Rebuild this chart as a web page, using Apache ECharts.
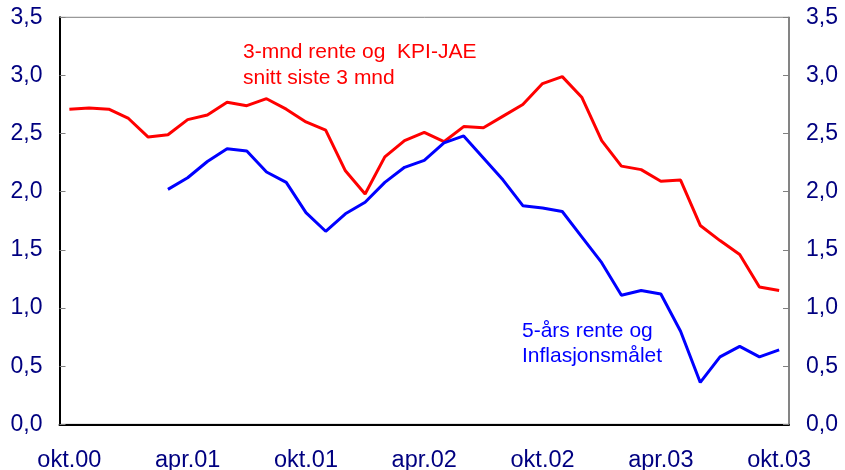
<!DOCTYPE html>
<html>
<head>
    <meta charset="utf-8">
    <title>Realrente</title>
    <script src="https://cdn.jsdelivr.net/npm/echarts@6/dist/echarts.min.js"></script>
    <style>
        html, body { margin: 0; padding: 0; background: #fff; }
    </style>
</head>
<body>
<div id="main" style="width: 845px;height:470px;"></div>
<script type="text/javascript">
    // months okt.00 - okt.03
    var months = ['okt.00','nov.00','des.00','jan.01','feb.01','mar.01','apr.01','mai.01','jun.01','jul.01','aug.01','sep.01',
        'okt.01','nov.01','des.01','jan.02','feb.02','mar.02','apr.02','mai.02','jun.02','jul.02','aug.02','sep.02',
        'okt.02','nov.02','des.02','jan.03','feb.03','mar.03','apr.03','mai.03','jun.03','jul.03','aug.03','sep.03','okt.03'];
    // 3-mnd rente og KPI-JAE, snitt siste 3 mnd
    var kortRente = [2.71,2.72,2.71,2.63,2.47,2.49,2.62,2.66,2.77,2.74,2.80,2.71,
        2.60,2.53,2.18,1.98,2.30,2.44,2.51,2.43,2.56,2.55,2.65,2.75,
        2.93,2.99,2.81,2.44,2.22,2.19,2.09,2.10,1.71,1.58,1.46,1.18,1.15];
    // 5-års rente og inflasjonsmålet
    var langRente = [null,null,null,null,null,2.02,2.12,2.26,2.37,2.35,2.17,2.08,
        1.82,1.66,1.81,1.91,2.08,2.21,2.27,2.42,2.48,2.29,2.10,1.88,
        1.86,1.83,1.61,1.39,1.11,1.15,1.12,0.80,0.36,0.58,0.67,0.58,0.64];
    var yTicks = [0, 0.5, 1, 1.5, 2, 2.5, 3, 3.5];

    var font = "'Liberation Sans', Arial, sans-serif";
    var navy = '#000080';
    function fmt(v) { return v.toFixed(1).replace('.', ','); }

    function yAxis(pos, lineColor) {
        return {
            type: 'value',
            position: pos,
            min: yTicks[0],
            max: yTicks[yTicks.length - 1],
            interval: 0.5,
            splitLine: { show: false },
            axisLine: { show: true, lineStyle: { color: lineColor, width: pos === 'left' ? 2 : 1.5 } },
            axisTick: { show: true, inside: true, length: 6, lineStyle: { color: '#808080', width: 1 } },
            axisLabel: { color: navy, fontSize: 23, fontFamily: font, margin: 17, formatter: fmt }
        };
    }

    var myChart = echarts.init(document.getElementById('main'));
    var option = {
        animation: false,
        backgroundColor: '#fff',
        grid: {
            left: 59.5, right: 56, top: 17.3, bottom: 45.7,
            outerBoundsMode: 'none',
            show: true, borderColor: '#808080', borderWidth: 1
        },
        xAxis: {
            type: 'category',
            data: months,
            boundaryGap: true,
            axisLine: { lineStyle: { color: '#000', width: 2 } },
            axisTick: { interval: 5, inside: true, length: 6, lineStyle: { color: '#808080' } },
            axisLabel: { interval: 5, color: navy, fontSize: 23.5, fontFamily: font, margin: 24 }
        },
        yAxis: [yAxis('left', '#000'), yAxis('right', '#707070')],
        series: [
            {
                name: '3-mnd rente og KPI-JAE',
                type: 'line',
                data: kortRente,
                symbol: 'none',
                lineStyle: { color: '#ff0000', width: 3 }
            },
            {
                name: '5-års rente og Inflasjonsmålet',
                type: 'line',
                data: langRente,
                symbol: 'none',
                lineStyle: { color: '#0000ff', width: 3 }
            }
        ],
        graphic: [
            {
                type: 'text', left: 243, top: 39,
                style: { text: '3-mnd rente og  KPI-JAE\nsnitt siste 3 mnd', fill: '#ff0000',
                    font: '21px ' + font, lineHeight: 26 }
            },
            {
                type: 'text', left: 522, top: 319,
                style: { text: '5-års rente og\nInflasjonsmålet', fill: '#0000ff',
                    font: '21px ' + font, lineHeight: 25 }
            }
        ]
    };
    myChart.setOption(option);
</script>
</body>
</html>
